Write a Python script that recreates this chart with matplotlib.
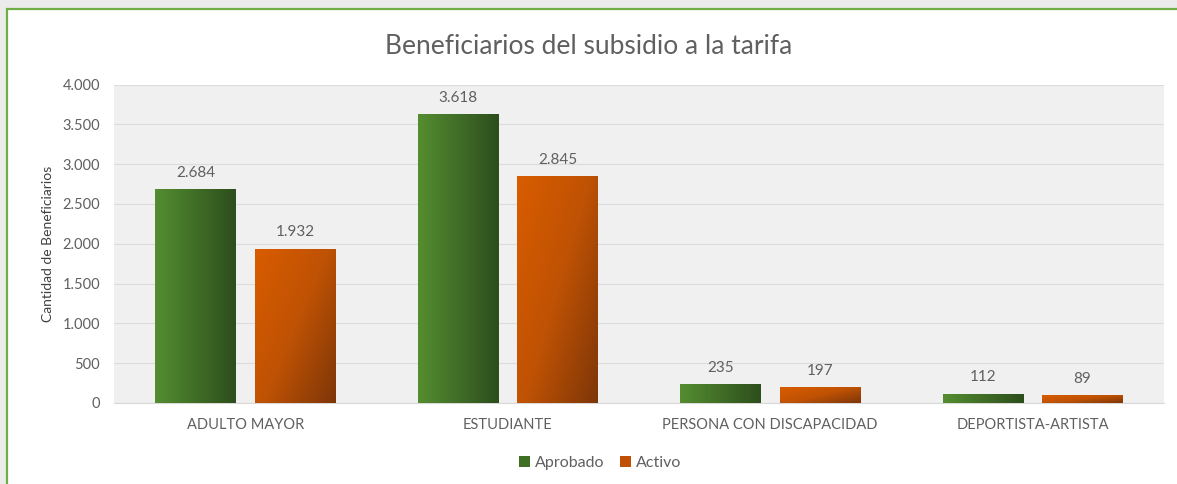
import numpy as np
import matplotlib
matplotlib.use("Agg")
import matplotlib.pyplot as plt
from matplotlib.patches import Rectangle
from matplotlib.ticker import FuncFormatter, MultipleLocator
from matplotlib.colors import LinearSegmentedColormap

categories = ["ADULTO MAYOR", "ESTUDIANTE", "PERSONA CON DISCAPACIDAD", "DEPORTISTA-ARTISTA"]
aprobado = [2684, 3618, 235, 112]
activo = [1932, 2845, 197, 89]
series_names = ["Aprobado", "Activo"]
title = "Beneficiarios del subsidio a la tarifa"
ylabel = "Cantidad de Beneficiarios"

plt.rcParams['font.family'] = ['Lato', 'DejaVu Sans']
txt = "#606060"

W, H = 1177, 484
fig = plt.figure(figsize=(W / 100, H / 100), dpi=100)
fig.patch.set_facecolor("#EBEBEB")
bg = fig.add_axes([0, 0, 1, 1], zorder=-10)
bg.set_axis_off()
bg.set_xlim(0, W)
bg.set_ylim(H, 0)
bg.add_patch(Rectangle((7, 9), W + 50, H + 50, facecolor="white", edgecolor="none", clip_on=False))
bg.plot([7, 7, W + 50], [H + 50, 9, 9], color="#70AD47", linewidth=1.6,
        solid_joinstyle="miter", clip_on=False)

ax = fig.add_axes([114 / W, 1 - 403 / H, (1164 - 114) / W, (403 - 84.5) / H])
ax.set_facecolor("#F0F0F0")

green_cmap = LinearSegmentedColormap.from_list("g", ["#548D30", "#2D4E1D"])
orange_cmap = LinearSegmentedColormap.from_list("o", ["#D95C00", "#BF5204", "#7E3608"])

x = np.arange(len(categories))
bw = 0.307
off = 0.19

def grad_bar(xc, h, cmap, diagonal):
    x0, x1 = xc - bw / 2, xc + bw / 2
    nx, ny = 64, 64
    u = np.linspace(0, 1, nx)[None, :]
    v = np.linspace(0, 1, ny)[:, None]  # 0 at top row (origin upper)
    if diagonal:
        t = 0.55 * u + 0.45 * v
    else:
        t = np.repeat(u, ny, axis=0)
    ax.imshow(t, cmap=cmap, extent=(x0, x1, 0, h), aspect='auto', origin='upper',
              vmin=0, vmax=1, zorder=3, interpolation='bilinear')

for i in range(len(categories)):
    grad_bar(x[i] - off, aprobado[i], green_cmap, False)
    grad_bar(x[i] + off, activo[i], orange_cmap, True)
    ax.annotate(f"{aprobado[i]:,}".replace(",", "."), (x[i] - off, aprobado[i]),
                xytext=(0, 7), textcoords="offset points", ha="center", va="bottom",
                color=txt, fontsize=11)
    ax.annotate(f"{activo[i]:,}".replace(",", "."), (x[i] + off, activo[i]),
                xytext=(0, 7), textcoords="offset points", ha="center", va="bottom",
                color=txt, fontsize=11)

ax.set_xlim(-0.5, len(categories) - 0.5)
ax.set_ylim(0, 4000)
ax.yaxis.set_major_locator(MultipleLocator(500))
ax.yaxis.set_major_formatter(FuncFormatter(lambda v, p: f"{int(v):,}".replace(",", ".")))
ax.set_xticks(x)
ax.set_xticklabels(categories)
ax.tick_params(axis='both', length=0, colors=txt, labelsize=10.5)
ax.tick_params(axis='y', pad=10)
ax.tick_params(axis='x', pad=11)
ax.grid(axis='y', color="#DCDCDC", linewidth=0.8, zorder=1)
ax.set_axisbelow(True)
for s in ["top", "right", "left"]:
    ax.spines[s].set_visible(False)
ax.spines["bottom"].set_color("#D9D9D9")
ax.set_ylabel(ylabel, color="#404040", fontsize=10, labelpad=6)

fig.text(0.5, 1 - 46 / H, title, ha="center", va="center", color=txt, fontsize=19)

handles = [Rectangle((0, 0), 1, 1, facecolor="#3F6F25"), Rectangle((0, 0), 1, 1, facecolor="#C05004")]
fig.legend(handles, series_names, loc="center", bbox_to_anchor=(600 / W, 1 - 463 / H), ncol=2,
           frameon=False, fontsize=11.5, labelcolor=txt, handlelength=0.7, handleheight=0.7,
           handletextpad=0.3, columnspacing=1.0)

fig.savefig("out.png", dpi=100, facecolor=fig.get_facecolor())
